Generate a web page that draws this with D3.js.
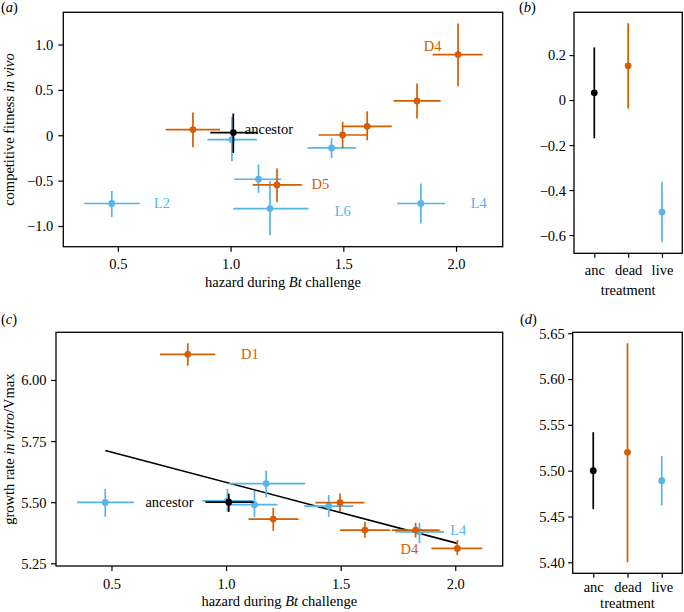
<!DOCTYPE html>
<html><head><meta charset="utf-8">
<script src="https://cdn.jsdelivr.net/npm/d3@7"></script>
<style>
body{margin:0;background:#fff}
svg{display:block}
text{font-family:"Liberation Serif","Times New Roman",serif;}
</style>
</head><body>
<svg id="chart" width="684" height="612"></svg>
<script>
// ---------- data ----------
// one entry per line (ancestor, 6 dead-selected, 6 live-selected)
const lineTreatment = ["live","live","live","live","live","live","dead","dead","dead","dead","dead","dead","anc"];
const hazard   = [1.006, 1.124, 1.175, 0.473, 1.448, 1.844, 0.833, 1.206, 1.497, 1.606, 1.827, 2.009, 1.012];
const hazardLo = [0.897, 1.016, 1.012, 0.350, 1.341, 1.739, 0.712, 1.098, 1.390, 1.497, 1.723, 1.896, 0.910];
const hazardHi = [1.117, 1.225, 1.346, 0.598, 1.556, 1.951, 0.953, 1.316, 1.604, 1.715, 1.932, 2.118, 1.120];

const fitness   = [-0.048, -0.485, -0.808, -0.752, -0.140, -0.752, 0.063, -0.547, 0.003, 0.099, 0.378, 0.889, 0.030];
const fitnessLo = [-0.287, -0.636, -1.102, -0.900, -0.250, -0.973, -0.132, -0.735, -0.140, -0.055, 0.184, 0.540, -0.195];
const fitnessHi = [ 0.200, -0.323, -0.503, -0.614, -0.033, -0.532, 0.250, -0.367, 0.147, 0.264, 0.570, 1.231, 0.239];

const growth   = [5.505, 5.490, 5.576, 5.499, 5.484, 5.379, 6.105, 5.431, 5.498, 5.386, 5.386, 5.311, 5.500];
const growthLo = [5.460, 5.438, 5.520, 5.440, 5.440, 5.332, 6.059, 5.383, 5.460, 5.355, 5.355, 5.284, 5.461];
const growthHi = [5.554, 5.546, 5.629, 5.554, 5.530, 5.416, 6.150, 5.477, 5.536, 5.420, 5.416, 5.345, 5.535];

// treatment summaries
const treatments = ["anc", "dead", "live"];
const fitMean = [0.032, 0.152, -0.498];
const fitLo   = [-0.170, -0.037, -0.632];
const fitHi   = [0.234, 0.341, -0.363];
const growthMean = [5.500, 5.520, 5.489];
const growthMLo  = [5.458, 5.400, 5.462];
const growthMHi  = [5.542, 5.639, 5.516];

// text annotations (data coordinates)
const labelsA = [
  {text:"D4", x:1.857, y:0.98, t:"dead"},
  {text:"D5", x:1.359, y:-0.54, t:"dead"},
  {text:"L6", x:1.462, y:-0.837, t:"live"},
  {text:"L4", x:2.065, y:-0.749, t:"live"},
  {text:"L2", x:0.660, y:-0.749, t:"live"},
  {text:"ancestor", x:1.063, y:0.074, t:"anc"}
];
const labelsC = [
  {text:"D1", x:1.065, y:6.106, t:"dead"},
  {text:"ancestor", x:0.648, y:5.501, t:"anc"},
  {text:"L4", x:1.978, y:5.386, t:"live"},
  {text:"D4", x:1.761, y:5.307, t:"dead"}
];

const xTicksHaz = [0.5, 1.0, 1.5, 2.0];
const yTicksA = [-1.0, -0.5, 0, 0.5, 1.0];
const yTicksB = [-0.6, -0.4, -0.2, 0, 0.2];
const yTicksC = [5.25, 5.50, 5.75, 6.00];
const yTicksD = [5.40, 5.45, 5.50, 5.55, 5.60, 5.65];

// ---------- drawing ----------
const color = {anc:"#000000", dead:"#D55E00", live:"#56B4E9"};
const FS = 14.5;
const INK = "#000";
const svg = d3.select("#chart");
const minus = s => s.replace("-", "\u2212");

const rows = hazard.map((h,i)=>({t:lineTreatment[i], x:h, xlo:hazardLo[i], xhi:hazardHi[i],
  fa:fitness[i], falo:fitnessLo[i], fahi:fitnessHi[i], g:growth[i], glo:growthLo[i], ghi:growthHi[i]}));
const order = {live:0, dead:1, anc:2};
rows.sort((a,b)=>order[a.t]-order[b.t]);

function frame(g, L, R, T, B){
  g.append("rect").attr("x",L).attr("y",T).attr("width",R-L).attr("height",B-T)
   .attr("fill","none").attr("stroke","#000").attr("stroke-width",1.3);
}
function styleAxis(sel, baseOff, isX){
  sel.attr("font-family",null);
  sel.select(".domain").remove();
  sel.selectAll(".tick line").attr("stroke","#000").attr("stroke-width",1.2);
  sel.selectAll("text").attr("font-size",FS).attr("fill",INK)
     .style("font-family","'Liberation Serif', serif");
  if(isX) sel.selectAll("text").attr("dy",0).attr("y",baseOff);
}

function tag(g, x, y, letter){
  const pt = g.append("text").attr("x",x).attr("y",y).attr("font-size",FS).attr("fill",INK);
  pt.append("tspan").text("(");
  pt.append("tspan").attr("font-style","italic").text(letter);
  pt.append("tspan").text(")");
}

function scatterPanel(o){
  const g = svg.append("g");
  const x = d3.scaleLinear().domain(o.xDomain).range([o.L,o.R]);
  const y = d3.scaleLinear().domain(o.yDomain).range([o.B,o.T]);
  const ax = g.append("g").attr("transform",`translate(0,${o.B})`)
    .call(d3.axisBottom(x).tickValues(xTicksHaz).tickFormat(d3.format(".1f")).tickSize(5));
  styleAxis(ax, 22.5, true);
  const ay = g.append("g").attr("transform",`translate(${o.L},0)`)
    .call(d3.axisLeft(y).tickValues(o.yTicks).tickFormat(o.yFmt).tickSize(5).tickPadding(o.yPad));
  styleAxis(ay, 0, false);
  ay.selectAll("text").attr("dy","0.34em");
  // least-squares fit line across the observed hazard range
  if(o.fit){
    const xs = rows.map(r=>r.x), ys = rows.map(r=>r[o.key]);
    const mx = d3.mean(xs), my = d3.mean(ys);
    const b = d3.sum(xs.map((v,i)=>(v-mx)*(ys[i]-my))) / d3.sum(xs.map(v=>(v-mx)*(v-mx)));
    const a = my - b*mx;
    const [x0,x1] = d3.extent(xs);
    g.append("line").attr("x1",x(x0)).attr("x2",x(x1)).attr("y1",y(a+b*x0)).attr("y2",y(a+b*x1))
      .attr("stroke","#000").attr("stroke-width",1.6);
  }
  const pts = g.append("g").selectAll("g").data(rows).join("g");
  pts.append("line").attr("x1",d=>x(d.xlo)).attr("x2",d=>x(d.xhi)).attr("y1",d=>y(d[o.key])).attr("y2",d=>y(d[o.key]))
    .attr("stroke",d=>color[d.t]).attr("stroke-width",1.7);
  pts.append("line").attr("x1",d=>x(d.x)).attr("x2",d=>x(d.x)).attr("y1",d=>y(d[o.key+"lo"])).attr("y2",d=>y(d[o.key+"hi"]))
    .attr("stroke",d=>color[d.t]).attr("stroke-width",1.7);
  pts.append("circle").attr("cx",d=>x(d.x)).attr("cy",d=>y(d[o.key])).attr("r",3.4)
    .attr("fill",d=>color[d.t]);
  g.selectAll("text.lab").data(o.labels).join("text").attr("class","lab")
    .attr("x",d=>x(d.x)).attr("y",d=>y(d.y)).attr("dy","0.35em")
    .attr("font-size",FS).attr("fill",d=>color[d.t]).text(d=>d.text);
  const xt = g.append("text").attr("x",(o.L+o.R)/2).attr("y",o.B+40.3).attr("text-anchor","middle").attr("font-size",FS).attr("fill",INK);
  xt.append("tspan").text("hazard during ");
  xt.append("tspan").attr("font-style","italic").text("Bt");
  xt.append("tspan").text(" challenge");
  const yt = g.append("text").attr("transform",`translate(13.5,${(o.T+o.B)/2}) rotate(-90)`)
    .attr("text-anchor","middle").attr("font-size",FS).attr("fill",INK);
  o.ytitle.forEach(([s,it])=>yt.append("tspan").attr("font-style",it?"italic":"normal").text(s));
  tag(g, o.tagX, o.tagY, o.tag);
  frame(g,o.L,o.R,o.T,o.B);
}

function treatPanel(o){
  const g = svg.append("g");
  const x = d3.scalePoint().domain(treatments).range([o.L,o.R]).padding(0.6);
  const y = d3.scaleLinear().domain(o.yDomain).range([o.B,o.T]);
  const ax = g.append("g").attr("transform",`translate(0,${o.B})`)
    .call(d3.axisBottom(x).tickSize(4.5));
  styleAxis(ax, o.xBase, true);
  const ay = g.append("g").attr("transform",`translate(${o.L},0)`)
    .call(d3.axisLeft(y).tickValues(o.yTicks).tickFormat(o.yFmt).tickSize(4.5).tickPadding(3.5));
  styleAxis(ay, 0, false);
  ay.selectAll("text").attr("dy","0.34em");
  const data = treatments.map((t,i)=>({t, m:o.mean[i], lo:o.lo[i], hi:o.hi[i]}));
  const pts = g.selectAll("g.p").data(data).join("g").attr("class","p");
  pts.append("line").attr("x1",d=>x(d.t)).attr("x2",d=>x(d.t)).attr("y1",d=>y(d.lo)).attr("y2",d=>y(d.hi))
    .attr("stroke",d=>color[d.t]).attr("stroke-width",1.7);
  pts.append("circle").attr("cx",d=>x(d.t)).attr("cy",d=>y(d.m)).attr("r",3.4).attr("fill",d=>color[d.t]);
  g.append("text").attr("x",(o.L+o.R)/2).attr("y",o.B+o.titleOff).attr("text-anchor","middle")
    .attr("font-size",FS).attr("fill",INK).text("treatment");
  tag(g, o.tagX, o.tagY, o.tag);
  frame(g,o.L,o.R,o.T,o.B);
}

const fmt1 = d => d===0 ? "0" : minus(d3.format(".1f")(d));
const fmt2 = d => minus(d3.format(".2f")(d));

scatterPanel({L:63.3, R:502.7, T:12.3, B:246.7, xDomain:[0.258,2.207], yDomain:[-1.228,1.355],
  yTicks:yTicksA, yFmt:fmt1, yPad:5, key:"fa", labels:labelsA, fit:false,
  ytitle:[["competitive fitness ",false],["in vivo",true]], tag:"a", tagX:1, tagY:12});
treatPanel({L:574, R:682.3, T:12.3, B:253.3, yDomain:[-0.681,0.39], yTicks:yTicksB, yFmt:fmt1,
  mean:fitMean, lo:fitLo, hi:fitHi, xBase:21.7, titleOff:41.7, tag:"b", tagX:519, tagY:12});
scatterPanel({L:56, R:502.7, T:332.3, B:566, xDomain:[0.258,2.207], yDomain:[5.239,6.195],
  yTicks:yTicksC, yFmt:fmt2, yPad:4.5, key:"g", labels:labelsC, fit:true,
  ytitle:[["growth rate ",false],["in vitro",true],["/Vmax",false]], tag:"c", tagX:1, tagY:324});
treatPanel({L:572.7, R:682.3, T:332.3, B:573.3, yDomain:[5.388,5.651], yTicks:yTicksD, yFmt:fmt2,
  mean:growthMean, lo:growthMLo, hi:growthMHi, xBase:18.4, titleOff:35, tag:"d", tagX:520, tagY:324});
</script>
</body></html>
